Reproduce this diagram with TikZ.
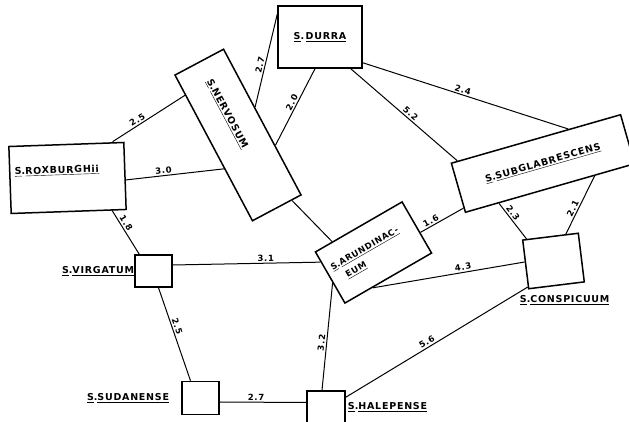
\documentclass[tikz,border=0pt]{standalone}
\usepackage{fontspec}
\setmainfont{DejaVu Sans}[LetterSpace=8]
\usetikzlibrary{calc}
\newcommand{\spn}[1]{\underline{S}.\underline{#1}}

\begin{document}
\begin{tikzpicture}[x=1pt,y=1pt,
box/.style={draw,line width=1.5pt,inner sep=1pt,font=\bfseries\fontsize{9.5}{14}\selectfont},
tag/.style={font=\bfseries\fontsize{9.5}{11}\selectfont,inner sep=0pt},
val/.style={font=\bfseries\fontsize{8.5}{10}\selectfont,inner sep=1.5pt,sloped,above},
link/.style={line width=1pt}]
\useasboundingbox (0,0) rectangle (629,422);
\node[box,minimum width=84,minimum height=62] (durra) at (320,385) {\underline{S}.\,\underline{DURRA}};
\node[box,rotate=-62,minimum width=165,minimum height=55,text width=124,align=left] (nerv) at (238,287) {\spn{NERVOSUM}};
\node[box,rotate=2,minimum width=115,minimum height=67,text width=105,align=left,text height=6pt,text depth=16pt] (rox) at (67.5,244) {\spn{ROXBURGHii}};
\node[box,rotate=16,minimum width=176,minimum height=51] (subg) at (543,258.5) {\spn{SUBGLABRESCENS}};
\node[box,rotate=30,minimum width=100,minimum height=59,text width=88,align=left,font=\bfseries\fontsize{8.5}{14}\selectfont] (arun) at (373.5,169.5) {\spn{ARUNDINAC-}\\\hspace*{9pt}\underline{EUM}};
\node[box,minimum width=37,minimum height=32,label={[tag]left:\spn{VIRGATUM}}] (virg) at (153.5,151) {};
\node[box,minimum width=37,minimum height=33,label={[tag,label distance=12pt]left:\spn{SUDANENSE}}] (sud) at (200.5,24) {};
\node[box,minimum width=38,minimum height=33,label={[tag,label distance=2pt]right:\spn{HALEPENSE}}] (hal) at (326,14.5) {};
\node[box,rotate=7,minimum width=56,minimum height=49,label={[tag,anchor=north,xshift=7pt,label distance=9pt]below:\spn{CONSPICUUM}}] (consp) at (553.5,161) {};
% distances
\draw[link] ([xshift=-12pt]rox.north east) -- node[val,pos=.38]{2.5} ($(nerv.south west)!.14!(nerv.south east)$);
\draw[link] ([yshift=-4pt]rox.east) -- node[val,pos=.39]{3.0} ($(nerv.south west)!.64!(nerv.south east)$);
\draw[link] ($(nerv.north west)!.4!(nerv.north east)$) -- node[val,pos=.44]{2.7} ([yshift=-9pt]durra.north west);
\draw[link] ($(nerv.north west)!.66!(nerv.north east)$) -- node[val,pos=.53]{2.0} ([xshift=-5pt]durra.south);
\draw[link] ([yshift=6pt]durra.south east) -- node[val,pos=.48]{2.4} ($(subg.north west)!.69!(subg.north east)$);
\draw[link] ([xshift=-12pt]durra.south east) -- node[val,pos=.53]{5.2} ($(subg.north west)!.04!(subg.north east)$);
\draw[link] ($(nerv.north east)!.2!(nerv.south east)$) -- ($(arun.north west)!.2!(arun.north east)$);
\draw[link] ($(arun.north east)!.6!(arun.south east)$) -- node[val,pos=.3]{1.6} ($(subg.south west)!.1!(subg.north west)$);
\draw[link] ([xshift=-15pt]rox.south east) -- node[val,pos=.36]{1.8} ([xshift=5pt]virg.north west);
\draw[link] ([yshift=6pt]virg.east) -- node[val,pos=.63]{3.1} ($(arun.north west)!.2!(arun.south west)$);
\draw[link] ([xshift=5pt]virg.south) -- node[val,pos=.43]{2.5} ([xshift=-10pt]sud.north);
\draw[link] ([yshift=-4pt]sud.east) -- node[val,pos=.42]{2.7} ([yshift=5pt]hal.west);
\draw[link] ($(arun.north west)!.6!(arun.south west)$) -- node[val,pos=.56]{3.2} ([xshift=-4pt]hal.north);
\draw[link] ($(arun.south west)!.32!(arun.south east)$) -- node[val,pos=.6]{4.3} ($(consp.north west)!.45!(consp.south west)$);
\draw[link] ($(subg.south west)!.2!(subg.south east)$) -- node[val,pos=.36]{2.3} ($(consp.north west)!.08!(consp.north east)$);
\draw[link] ($(subg.south west)!.76!(subg.south east)$) -- node[val,pos=.6]{2.1} ($(consp.north west)!.77!(consp.north east)$);
\draw[link] ([yshift=-7pt]hal.north east) -- node[val,pos=.46]{5.6} ($(consp.north west)!.95!(consp.south west)$);
\end{tikzpicture}
\end{document}
